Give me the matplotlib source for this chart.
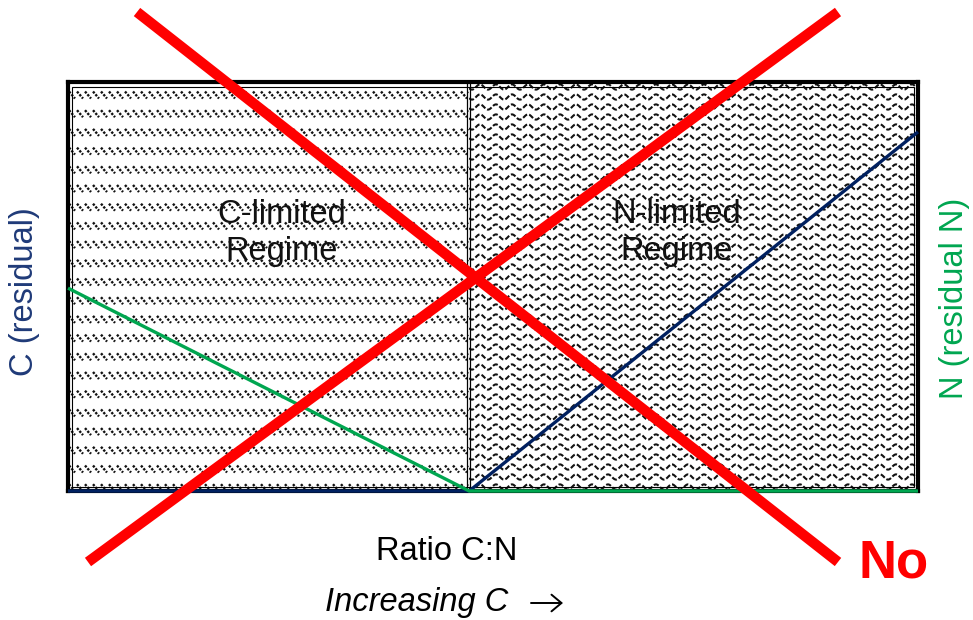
import numpy as np
import matplotlib
matplotlib.use("Agg")
import matplotlib.pyplot as plt
from matplotlib.collections import LineCollection
from matplotlib.patches import Rectangle, FancyArrowPatch
from matplotlib.lines import Line2D

plt.rcParams['font.family'] = ['Liberation Sans', 'DejaVu Sans']

# ---- data (schematic) ----
x_ratio = [0.0, 0.472, 1.0]          # ratio C:N (left edge, balance point, right edge)
c_residual = [0.0, 0.0, 0.878]       # C (residual) - navy line
n_residual = [0.496, 0.0, 0.0]       # N (residual) - green line
regime_labels = ["C-limited\nRegime", "N-limited\nRegime"]
y_left_label = "C (residual)"
y_right_label = "N (residual N)"
x_label = "Ratio C:N"
x_sublabel = "Increasing C"
verdict = "No"

W, H = 973, 620
fig = plt.figure(figsize=(W / 100, H / 100), dpi=100)
L, R, T, B = 68, 918, 82, 491
ax = fig.add_axes([L / W, 1 - B / H, (R - L) / W, (B - T) / H])
ax.set_xlim(0, 1)
ax.set_ylim(0, 1)
ax.set_xticks([])
ax.set_yticks([])
for s in ax.spines.values():
    s.set_linewidth(3)
    s.set_color('black')
    s.set_zorder(6)

pxx = 1.0 / (R - L)
pxy = 1.0 / (B - T)
xdiv = x_ratio[1]

# ---- left region pattern: rows of short backslash dashes ----
segs = []
row_centers_px = np.arange(282 - 10 * 18.7, B, 18.7)
for yc in row_centers_px:
    yd = (B - yc) * pxy
    for xp in np.arange(L - 4, L + xdiv * (R - L) + 8, 8.0):
        xd = (xp - L) * pxx
        segs.append([(xd - 3 * pxx, yd + 3.5 * pxy), (xd + 3 * pxx, yd - 3.5 * pxy)])
lc = LineCollection(segs, colors='#111111', linewidths=1.7,
                    linestyles=[(0, (1.0, 0.6))], zorder=3)
ax.add_collection(lc)
clipL = Rectangle((0, 0), xdiv, 1, transform=ax.transData)
lc.set_clip_path(clipL)

# ---- right region pattern: dashed wavy rows ----
wave_segs = []
xs_px = np.arange(L + xdiv * (R - L), R + 2, 0.5)
for yc in np.arange(B - 4, T, -10.0):
    ys_px = yc + 2.6 * np.sin(2 * np.pi * (xs_px - L) / 16.0)
    wave_segs.append(np.column_stack([(xs_px - L) * pxx, (B - ys_px) * pxy]))
wc = LineCollection(wave_segs, colors='#111111', linewidths=1.5,
                    linestyles=[(0, (2.5, 1.0))], zorder=3)
ax.add_collection(wc)
clipR = Rectangle((xdiv, 0), 1 - xdiv, 1, transform=ax.transData)
wc.set_clip_path(clipR)

# inner thin frame and double divider
ax.add_patch(Rectangle((4 * pxx, 4 * pxy), 1 - 8 * pxx, 1 - 9 * pxy,
                       fill=False, lw=0.8, ec='black', zorder=5))
ax.axvline(xdiv - 2 * pxx, color='black', lw=0.9, zorder=5)
ax.axvline(xdiv + 1 * pxx, color='black', lw=0.9, zorder=5)

# ---- regime texts ----
ax.text((282 - L) * pxx, (B - 233) * pxy, regime_labels[0], ha='center', va='center',
        fontsize=23.5, color='#111111', linespacing=1.25, zorder=2)
ax.text((677 - L) * pxx, (B - 233) * pxy, regime_labels[1], ha='center', va='center',
        fontsize=23.5, color='#111111', linespacing=1.25, zorder=2)

# ---- data lines ----
ax.plot(x_ratio, c_residual, color='#002060', lw=2.4, zorder=7, clip_on=False,
        solid_capstyle='butt')
ax.plot(x_ratio, n_residual, color='#00A650', lw=2.4, zorder=7, clip_on=False,
        solid_capstyle='butt')

# ---- axis labels ----
fig.text(25 / W, 1 - 292 / H, y_left_label, rotation=90, ha='center', va='center',
         fontsize=23.5, color='#1F3A78')
fig.text(955 / W, 1 - 298 / H, y_right_label, rotation=90, ha='center', va='center',
         fontsize=23.5, color='#00A650')
fig.text(447 / W, 1 - 551 / H, x_label, ha='center', va='center', fontsize=23.5,
         color='black')
fig.text(417 / W, 1 - 603 / H, x_sublabel, ha='center', va='center', fontsize=23.5,
         color='black', style='italic')
fig.add_artist(FancyArrowPatch((531 / W, 1 - 603 / H), (563 / W, 1 - 603 / H),
                               transform=fig.transFigure,
                               arrowstyle='->,head_length=0.36,head_width=0.3',
                               lw=1.4, color='black', mutation_scale=20,
                               shrinkA=0, shrinkB=0))

# ---- red X and verdict ----
for (x0, y0, x1, y1) in [(137, 12, 838, 562), (838, 12, 88, 562)]:
    fig.add_artist(Line2D([x0 / W, x1 / W], [1 - y0 / H, 1 - y1 / H],
                          transform=fig.transFigure, color='#FF0000', lw=7.5,
                          solid_capstyle='butt', zorder=20))
fig.text(894 / W, 1 - 564 / H, verdict, ha='center', va='center', fontsize=38,
         color='#FF0000', fontweight='bold', zorder=21)

fig.savefig('out.png', dpi=100)
